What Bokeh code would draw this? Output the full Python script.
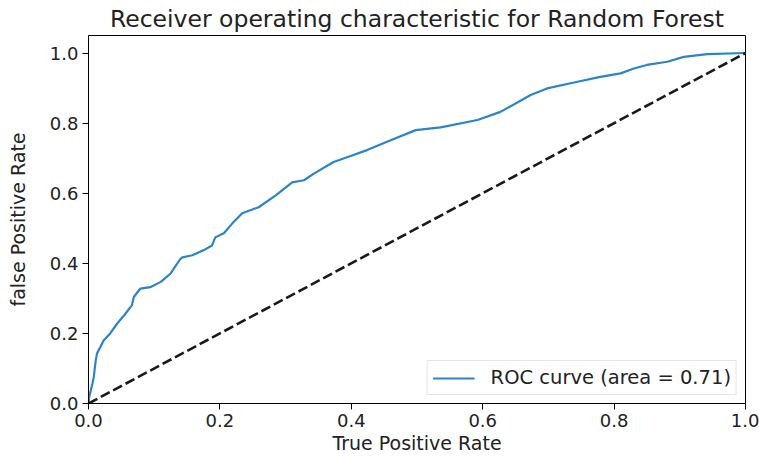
from bokeh.plotting import figure
from bokeh.models import Range1d, FixedTicker, Legend, LegendItem
from bokeh.embed import file_html
from bokeh.resources import INLINE

# ROC curve data
fpr = [0.0, 0.001, 0.006, 0.008, 0.011, 0.013, 0.018, 0.023, 0.033, 0.044,
       0.054, 0.066, 0.069, 0.079, 0.094, 0.11, 0.125, 0.14, 0.143, 0.158,
       0.175, 0.188, 0.193, 0.206, 0.219, 0.234, 0.259, 0.285, 0.31, 0.328,
       0.343, 0.373, 0.399, 0.424, 0.46, 0.498, 0.536, 0.592, 0.627, 0.673,
       0.698, 0.739, 0.779, 0.81, 0.83, 0.85, 0.881, 0.906, 0.942, 1.0]
tpr = [0.0, 0.018, 0.057, 0.075, 0.123, 0.143, 0.161, 0.18, 0.2, 0.229,
       0.251, 0.28, 0.304, 0.328, 0.332, 0.347, 0.371, 0.413, 0.417, 0.423,
       0.437, 0.451, 0.474, 0.486, 0.514, 0.543, 0.56, 0.594, 0.631, 0.637,
       0.656, 0.689, 0.706, 0.723, 0.751, 0.78, 0.788, 0.809, 0.832, 0.88,
       0.899, 0.916, 0.932, 0.942, 0.956, 0.966, 0.975, 0.989, 0.997, 1.0]
diag_x = [0.0, 1.0]
diag_y = [0.0, 1.0]
ticks = [0.0, 0.2, 0.4, 0.6, 0.8, 1.0]
tick_labels = ["0.0", "0.2", "0.4", "0.6", "0.8", "1.0"]
legend_label = "ROC curve (area = 0.71)"

FONT = "DejaVu Sans"

p = figure(width=759, height=457, output_backend="svg", toolbar_location=None,
           x_range=Range1d(0.0, 1.0), y_range=Range1d(0.0, 1.05),
           min_border_left=88, min_border_right=14, min_border_top=34,
           min_border_bottom=54)

p.title.text = "Receiver operating characteristic for Random Forest"
p.title.align = "center"
p.title.text_font = FONT
p.title.text_font_size = "23.5px"
p.title.text_font_style = "normal"
p.title.text_color = "#222222"
p.title.standoff = 5

p.xgrid.visible = False
p.ygrid.visible = False
p.outline_line_color = "black"
p.outline_line_width = 1
p.outline_line_alpha = 1
p.background_fill_color = "white"
p.border_fill_color = "white"

for ax in (p.xaxis[0], p.yaxis[0]):
    ax.ticker = FixedTicker(ticks=ticks)
    ax.major_label_overrides = {t: l for t, l in zip(ticks, tick_labels)}
    ax.minor_tick_line_color = None
    ax.major_tick_out = 6
    ax.major_tick_in = 0
    ax.major_label_standoff = 4
    ax.major_label_text_font = FONT
    ax.major_label_text_font_size = "18px"
    ax.major_label_text_color = "#222222"
    ax.axis_label_text_font = FONT
    ax.axis_label_text_font_size = "19px"
    ax.axis_label_text_font_style = "normal"
    ax.axis_label_text_color = "#222222"
    ax.axis_line_color = "black"
    ax.major_tick_line_color = "black"

p.xaxis.axis_label = "True Positive Rate"
p.xaxis.axis_label_standoff = 2
p.yaxis.axis_label = "false Positive Rate"
p.yaxis.axis_label_standoff = 18

roc = p.line(fpr, tpr, line_color="#2b84c8", line_width=2.2)
p.line(diag_x, diag_y, line_color="#1a1a1a", line_width=2.6, line_dash="10 4")

legend = Legend(items=[LegendItem(label=legend_label, renderers=[roc])],
                location="bottom_right", margin=8, padding=5,
                glyph_width=42, glyph_height=20, label_standoff=16,
                label_text_font=FONT, label_text_font_size="19.5px",
                label_text_color="#222222",
                border_line_color="#cccccc", border_line_width=1,
                background_fill_alpha=0.8)
p.add_layout(legend)

open("out.html", "w").write(file_html(p, INLINE))
